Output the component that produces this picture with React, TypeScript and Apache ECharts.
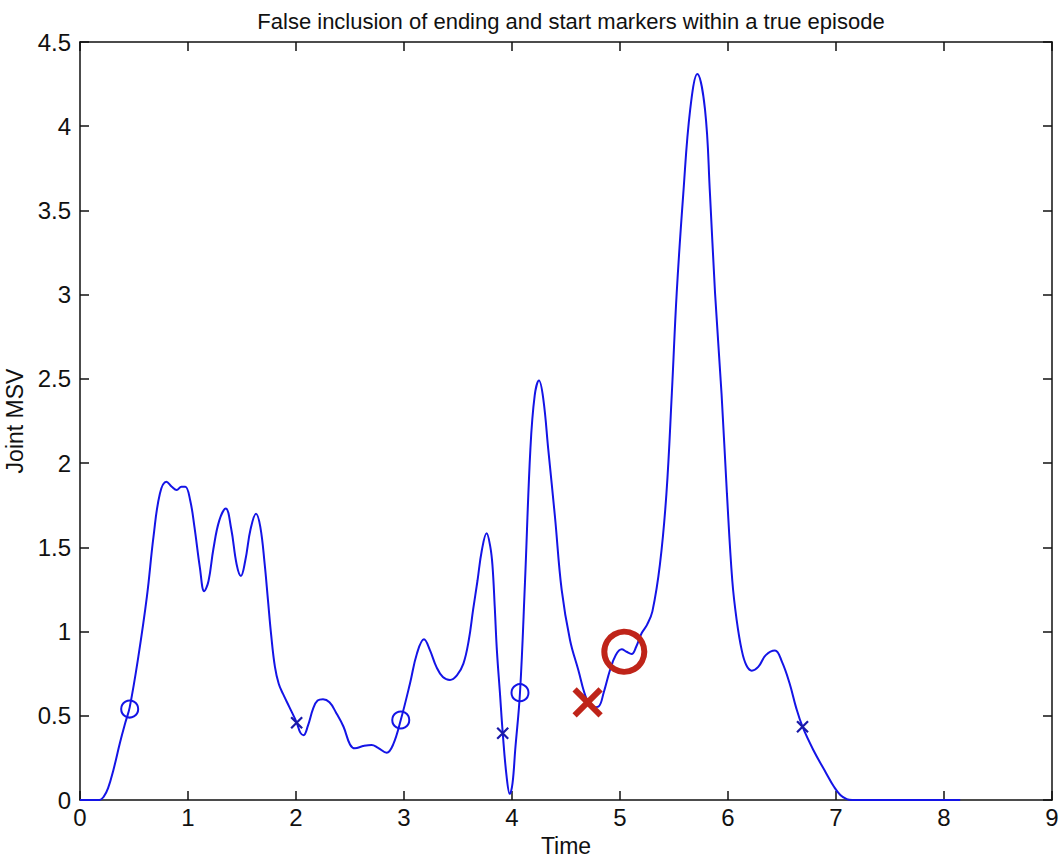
import React, { useEffect, useRef } from "react";
import * as echarts from "echarts";

const TITLE = "False inclusion of ending and start markers within a true episode";
const X_NAME = "Time";
const Y_NAME = "Joint MSV";

const timePoints = [
  0.0, 0.1, 0.18, 0.22, 0.26, 0.31, 0.37, 0.42, 0.46, 0.54, 0.62, 0.68, 0.74, 0.8, 0.85, 0.895, 0.94, 0.975,
  1.02, 1.06, 1.11, 1.15, 1.19, 1.235, 1.29, 1.35, 1.4, 1.45, 1.49, 1.53, 1.58, 1.63, 1.67, 1.71, 1.74, 1.77,
  1.805, 1.84, 1.88, 1.94, 2.006, 2.04, 2.07, 2.11, 2.16, 2.2, 2.25, 2.31, 2.37, 2.44, 2.5, 2.546, 2.62, 2.7,
  2.76, 2.84, 2.9, 2.97, 3.056, 3.12, 3.185, 3.24, 3.3, 3.36, 3.426, 3.49, 3.55, 3.6, 3.64, 3.68, 3.72, 3.765,
  3.8, 3.82, 3.84, 3.86, 3.89, 3.914, 3.95, 3.98, 4.005, 4.03, 4.074, 4.12, 4.17, 4.21, 4.25, 4.29, 4.336,
  4.398, 4.46, 4.537, 4.614, 4.69, 4.75, 4.8, 4.85, 4.907, 4.96, 5.016, 5.06, 5.108, 5.15, 5.2, 5.25, 5.3,
  5.37, 5.43, 5.48, 5.525, 5.586, 5.65, 5.716, 5.787, 5.833, 5.88, 5.94, 5.99, 6.04, 6.08, 6.127, 6.17, 6.22,
  6.28, 6.35, 6.435, 6.5, 6.57, 6.63, 6.69, 6.79, 6.91, 6.98, 7.04, 7.1, 7.15, 8.15,
];
const msvValues = [
  0, 0, 0, 0.02, 0.07, 0.18, 0.34, 0.46, 0.55, 0.85, 1.21, 1.56, 1.82, 1.89, 1.86, 1.84, 1.86, 1.86,
  1.78, 1.62, 1.38, 1.24, 1.3, 1.49, 1.66, 1.73, 1.61, 1.4, 1.33, 1.42, 1.61, 1.7, 1.62, 1.4, 1.19, 0.98,
  0.79, 0.69, 0.63, 0.55, 0.46, 0.4, 0.385, 0.44, 0.545, 0.59, 0.598, 0.58, 0.52, 0.435, 0.33, 0.307, 0.32, 0.327,
  0.31, 0.281, 0.33, 0.475, 0.693, 0.87, 0.954, 0.89, 0.79, 0.73, 0.713, 0.74, 0.81, 0.95, 1.13, 1.3, 1.48, 1.584,
  1.5, 1.385, 1.15, 0.89, 0.62, 0.4, 0.14, 0.035, 0.1, 0.3, 0.637, 1.29, 2.08, 2.4, 2.49, 2.38, 2.08,
  1.68, 1.247, 0.95, 0.772, 0.6, 0.55, 0.554, 0.64, 0.77, 0.86, 0.895, 0.88, 0.867, 0.91, 0.99, 1.04, 1.12,
  1.4, 1.82, 2.415, 3.01, 3.6, 4.1, 4.31, 4.1, 3.6, 3.01, 2.415, 1.82, 1.3, 1.07, 0.89, 0.8, 0.768,
  0.79, 0.86, 0.887, 0.82, 0.693, 0.55, 0.435, 0.297, 0.158, 0.08, 0.03, 0.005, 0, 0,
];

const startCircles: [number, number][] = [
  [0.46, 0.54],
  [2.97, 0.475],
  [4.074, 0.637],
];
const endCrosses: [number, number][] = [
  [2.006, 0.459],
  [3.914, 0.396],
  [6.69, 0.435],
];
const falseEnd: [number, number][] = [[4.7, 0.58]];
const falseStart: [number, number][] = [[5.04, 0.88]];

const xTicks = { min: 0, max: 9, interval: 1 };
const yTicks = { min: 0, max: 4.5, interval: 0.5 };

const BLUE = "#1414e6";
const RED = "#bf2419";
const FONT = "'Liberation Sans', Arial, Helvetica, sans-serif";
const CROSS = "path://M0,0L10,10M10,0L0,10";

export default function App() {
  const ref = useRef<HTMLDivElement>(null);
  useEffect(() => {
    if (!ref.current) return;
    const chart = echarts.init(ref.current, null, { renderer: "svg" });
    const lineData = timePoints.map((t, i) => [t, msvValues[i]]);
    const axisCommon = {
      axisLine: { show: true, onZero: false, lineStyle: { color: "#111", width: 1.5 } },
      axisTick: { show: true, inside: true, length: 9, lineStyle: { color: "#111", width: 1.5 } },
      splitLine: { show: false },
    };
    chart.setOption({
      animation: false,
      backgroundColor: "#ffffff",
      textStyle: { fontFamily: FONT },
      title: {
        text: TITLE,
        left: 566,
        textAlign: "center",
        top: 5,
        textStyle: { fontSize: 22, fontWeight: "normal", color: "#111", fontFamily: FONT },
      },
      grid: { left: 80, right: 10, top: 42, bottom: 59, containLabel: false, outerBoundsMode: "none" },
      xAxis: [
        {
          type: "value",
          ...xTicks,
          position: "bottom",
          name: X_NAME,
          nameLocation: "middle",
          nameGap: 34,
          nameTextStyle: { fontSize: 23, color: "#111", fontFamily: FONT },
          axisLabel: { fontSize: 24, color: "#111", margin: 5, fontFamily: FONT },
          ...axisCommon,
        },
        {
          type: "value",
          ...xTicks,
          position: "top",
          axisLabel: { show: false },
          ...axisCommon,
        },
      ],
      yAxis: [
        {
          type: "value",
          ...yTicks,
          position: "left",
          name: Y_NAME,
          nameLocation: "middle",
          nameGap: 44,
          nameTextStyle: { fontSize: 23, color: "#111", fontFamily: FONT },
          axisLabel: { fontSize: 24, color: "#111", margin: 9, fontFamily: FONT },
          ...axisCommon,
        },
        {
          type: "value",
          ...yTicks,
          position: "right",
          axisLabel: { show: false },
          ...axisCommon,
        },
      ],
      series: [
        {
          type: "line",
          data: lineData,
          smooth: 0.4,
          showSymbol: false,
          lineStyle: { color: BLUE, width: 2 },
          z: 2,
        },
        {
          type: "scatter",
          data: startCircles,
          symbol: "circle",
          symbolSize: 17,
          itemStyle: { color: "rgba(0,0,0,0)", borderColor: BLUE, borderWidth: 2, opacity: 1 },
          z: 3,
        },
        {
          type: "scatter",
          data: endCrosses,
          symbol: CROSS,
          symbolSize: 11,
          itemStyle: { color: "rgba(0,0,0,0)", borderColor: "#1a1aa8", borderWidth: 2.2, opacity: 1 },
          z: 3,
        },
        {
          type: "scatter",
          data: falseEnd,
          symbol: CROSS,
          symbolSize: 26,
          itemStyle: { color: "rgba(0,0,0,0)", borderColor: RED, borderWidth: 6, opacity: 1 },
          z: 4,
        },
        {
          type: "scatter",
          data: falseStart,
          symbol: "circle",
          symbolSize: 40,
          itemStyle: { color: "rgba(0,0,0,0)", borderColor: RED, borderWidth: 6, opacity: 1 },
          z: 4,
        },
      ],
    });
    return () => chart.dispose();
  }, []);
  return (
    <div
      ref={ref}
      style={{ position: "absolute", left: 0, top: 0, width: 1062, height: 859 }}
    />
  );
}
